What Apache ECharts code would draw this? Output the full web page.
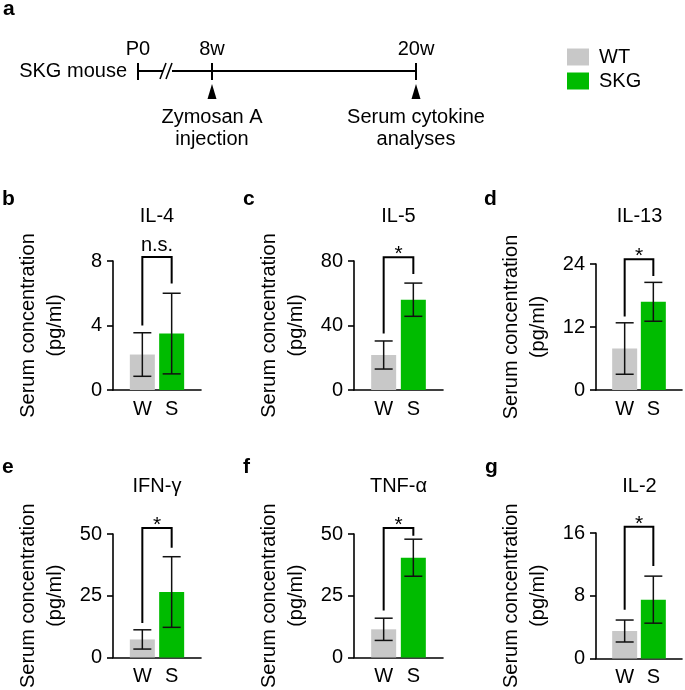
<!DOCTYPE html>
<html><head><meta charset="utf-8">
<script src="https://cdn.jsdelivr.net/npm/echarts@6/dist/echarts.min.js"></script>
<style>html,body{margin:0;padding:0;background:#fff}#c{width:685px;height:690px}</style>
</head><body><div id="c"></div>
<script>
// ---- data ----
const cytokines = ['IL-4', 'IL-5', 'IL-13', 'IFN-γ', 'TNF-α', 'IL-2'];
const panelLetters = ['b', 'c', 'd', 'e', 'f', 'g'];
const groupLabels = ['W', 'S'];
const legendNames = ['WT', 'SKG'];
const wtMean = [2.2, 21.7, 7.9, 7.3, 11.4, 3.5];
const wtErr = [1.35, 8.7, 4.9, 3.9, 4.5, 1.4];
const skgMean = [3.5, 56, 16.8, 26.5, 40.4, 7.5];
const skgErr = [2.5, 10.3, 3.7, 14.3, 7.5, 3.0];
const yMax = [8, 80, 24, 50, 50, 16];
const sigLabels = ['n.s.', '*', '*', '*', '*', '*'];
const bracketLeft = [4.0, 35, 14, 14, 19, 6.2];
const bracketRight = [6.6, 72, 21.7, 44.4, 49.3, 11.8];
const bracketTop = [8.25, 82.3, 24.9, 52.4, 52.4, 16.8];
const yAxisName = 'Serum concentration\n(pg/ml)';
const timepoints = ['P0', '8w', '20w'];
const timeWeeks = [0, 8, 20];
const events = ['Zymosan A\ninjection', 'Serum cytokine\nanalyses'];
const eventWeeks = [8, 20];
const subjectLabel = 'SKG mouse';

// ---- layout / style ----
const FONT = '"Liberation Sans", Arial, Helvetica, sans-serif';
const GRAY = '#c8c8c8', GREEN = '#00bb00', INK = '#000';
const grids = [
  {left: 113, top: 261, width: 88, height: 129},
  {left: 354, top: 261, width: 89, height: 129},
  {left: 596, top: 264, width: 87, height: 126},
  {left: 113, top: 534, width: 88, height: 125},
  {left: 354, top: 534, width: 89, height: 125},
  {left: 596, top: 533, width: 87, height: 126}
];
const letterPos = [[2, 199], [243, 199], [484, 199], [2, 467], [243, 467], [485, 467]];
const titleY = [216, 216, 216, 486, 486, 486];

const xAxes = [], yAxes = [], series = [], graphics = [];
cytokines.forEach((name, i) => {
  xAxes.push({
    gridIndex: i, type: 'value', min: 0, max: groupLabels.length + 1, interval: 1,
    axisLine: {show: true, lineStyle: {color: INK, width: 1.6}},
    axisTick: {show: false}, splitLine: {show: false},
    axisLabel: {color: INK, fontSize: 20, fontFamily: FONT, margin: 9,
      formatter: v => groupLabels[v - 1] || ''}
  });
  yAxes.push({
    gridIndex: i, type: 'value', min: 0, max: yMax[i], interval: yMax[i] / 2,
    axisLine: {show: true, lineStyle: {color: INK, width: 1.6}},
    axisTick: {show: true, length: 6, lineStyle: {color: INK, width: 1.6}},
    splitLine: {show: false},
    axisLabel: {color: INK, fontSize: 20, fontFamily: FONT, margin: 11},
    name: yAxisName, nameLocation: 'middle', nameGap: 44,
    nameTextStyle: {color: INK, fontSize: 20, fontFamily: FONT, lineHeight: 27}
  });
  series.push({
    type: 'bar', name: legendNames[0], xAxisIndex: i, yAxisIndex: i,
    data: [[1, wtMean[i]]], barWidth: 25, barGap: '-100%',
    itemStyle: {color: GRAY}, silent: true
  });
  series.push({
    type: 'bar', name: legendNames[1], xAxisIndex: i, yAxisIndex: i,
    data: [[2, skgMean[i]]], barWidth: 25, barGap: '-100%',
    itemStyle: {color: GREEN}, silent: true
  });
  series.push({
    type: 'custom', xAxisIndex: i, yAxisIndex: i, z: 5, silent: true,
    data: [[1, wtMean[i], wtErr[i]], [2, skgMean[i], skgErr[i]]],
    encode: {x: 0, y: 1},
    renderItem: (params, api) => {
      const x = api.value(0), m = api.value(1), e = api.value(2);
      const t = api.coord([x, m + e]), b = api.coord([x, m - e]);
      const hw = 9, st = {stroke: '#111', lineWidth: 1.5};
      return {type: 'group', children: [
        {type: 'line', shape: {x1: t[0], y1: t[1], x2: b[0], y2: b[1]}, style: st},
        {type: 'line', shape: {x1: t[0] - hw, y1: t[1], x2: t[0] + hw, y2: t[1]}, style: st},
        {type: 'line', shape: {x1: b[0] - hw, y1: b[1], x2: b[0] + hw, y2: b[1]}, style: st}
      ]};
    }
  });
  series.push({
    type: 'custom', xAxisIndex: i, yAxisIndex: i, z: 5, silent: true, clip: false,
    data: [[1, 2, bracketLeft[i], bracketRight[i], bracketTop[i]]],
    encode: {x: [0, 1], y: [2, 3, 4]},
    renderItem: (params, api) => {
      const x1 = api.value(0), x2 = api.value(1);
      const p1 = api.coord([x1, api.value(2)]), p2 = api.coord([x1, api.value(4)]);
      const p3 = api.coord([x2, api.value(4)]), p4 = api.coord([x2, api.value(3)]);
      const lab = sigLabels[i];
      const ty = lab === '*' ? p2[1] - 3 : p2[1] - 11;
      return {type: 'group', children: [
        {type: 'polyline', shape: {points: [p1, p2, p3, p4]},
          style: {stroke: INK, lineWidth: 2, fill: null}},
        {type: 'text', style: {text: lab, x: (p2[0] + p3[0]) / 2, y: ty,
          align: 'center', verticalAlign: 'middle', fontSize: lab === '*' ? 21 : 20, fontFamily: FONT, fill: INK}}
      ]};
    }
  });
  const g = grids[i];
  graphics.push({type: 'text', style: {text: name, x: g.left + g.width / 2, y: titleY[i],
    align: 'center', verticalAlign: 'middle', fontSize: 20, fontFamily: FONT, fill: INK}});
  graphics.push({type: 'text', style: {text: panelLetters[i], x: letterPos[i][0], y: letterPos[i][1],
    align: 'left', verticalAlign: 'middle', fontSize: 21, fontWeight: 'bold', fontFamily: FONT, fill: INK}});
});

// ---- timeline schematic (panel a) ----
const TL_Y = 71;
const weekX = w => (w === 0 ? 138 : 212 + (w - 8) * 17);
const lineSt = {stroke: INK, lineWidth: 2};
graphics.push({type: 'text', style: {text: 'a', x: 3, y: 9, align: 'left', verticalAlign: 'middle',
  fontSize: 21, fontWeight: 'bold', fontFamily: FONT, fill: INK}});
graphics.push({type: 'text', style: {text: subjectLabel, x: 127, y: TL_Y, align: 'right', verticalAlign: 'middle',
  fontSize: 20, fontFamily: FONT, fill: INK}});
graphics.push({type: 'line', shape: {x1: weekX(0), y1: TL_Y, x2: 163, y2: TL_Y}, style: lineSt});
graphics.push({type: 'line', shape: {x1: 172, y1: TL_Y, x2: weekX(timeWeeks[timeWeeks.length - 1]), y2: TL_Y}, style: lineSt});
graphics.push({type: 'line', shape: {x1: 160, y1: 79, x2: 166, y2: 63}, style: {stroke: INK, lineWidth: 1.6}});
graphics.push({type: 'line', shape: {x1: 166, y1: 79, x2: 172, y2: 63}, style: {stroke: INK, lineWidth: 1.6}});
timepoints.forEach((t, k) => {
  const x = weekX(timeWeeks[k]);
  graphics.push({type: 'line', shape: {x1: x, y1: TL_Y - 8, x2: x, y2: TL_Y + 9}, style: lineSt});
  graphics.push({type: 'text', style: {text: t, x: x, y: 49, align: 'center', verticalAlign: 'middle',
    fontSize: 20, fontFamily: FONT, fill: INK}});
});
events.forEach((ev, k) => {
  const x = weekX(eventWeeks[k]);
  graphics.push({type: 'polygon', shape: {points: [[x - 4.5, 99], [x + 4.5, 99], [x, 84]]}, style: {fill: INK}});
  graphics.push({type: 'text', style: {text: ev, x: x, y: 128, align: 'center', verticalAlign: 'middle',
    fontSize: 20, lineHeight: 22, fontFamily: FONT, fill: INK}});
});

const chart = echarts.init(document.getElementById('c'), null, {renderer: 'canvas'});
chart.setOption({
  animation: false,
  backgroundColor: '#fff',
  textStyle: {fontFamily: FONT},
  legend: {
    data: legendNames, orient: 'vertical', left: 567, top: 47, padding: 0, icon: 'rect',
    itemWidth: 22, itemHeight: 17, itemGap: 4, selectedMode: false,
    textStyle: {color: INK, fontSize: 20, fontFamily: FONT, padding: [0, 0, 0, 5]}
  },
  grid: grids,
  xAxis: xAxes,
  yAxis: yAxes,
  series: series,
  graphic: graphics
});
</script></body></html>
